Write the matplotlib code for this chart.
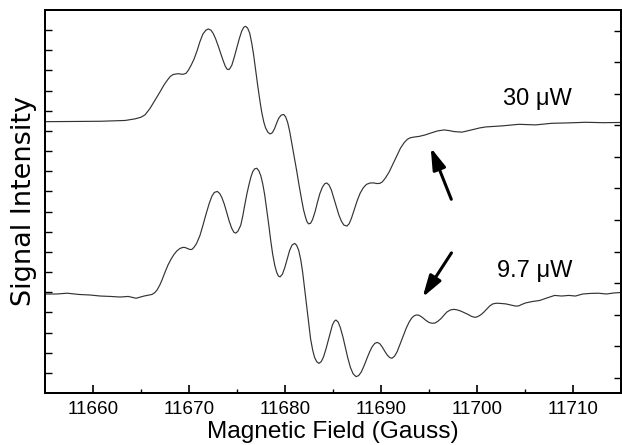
import matplotlib
matplotlib.use("Agg")
import matplotlib.pyplot as plt
import numpy as np

# ---- data ----
field_30 = [11655.05, 11657.64, 11660.76, 11663.35, 11664.39, 11665.00, 11665.43, 11665.95,
            11666.50, 11666.99, 11667.40, 11667.72, 11668.05, 11668.35, 11668.86, 11669.38,
            11669.70, 11669.95, 11670.25, 11670.53, 11670.85, 11671.14, 11671.45, 11671.75,
            11672.02, 11672.30, 11672.55, 11672.80, 11673.05, 11673.30, 11673.53, 11673.78,
            11674.00, 11674.22, 11674.47, 11674.72, 11674.99, 11675.25, 11675.50, 11675.72,
            11675.92, 11676.12, 11676.33, 11676.55, 11676.75, 11676.95, 11677.16, 11677.38,
            11677.58, 11677.80, 11677.99, 11678.25, 11678.48, 11678.70, 11678.93, 11679.15,
            11679.35, 11679.60, 11679.87, 11680.08, 11680.29, 11680.50, 11680.70, 11680.95,
            11681.22, 11681.48, 11681.74, 11681.95, 11682.15, 11682.30, 11682.47, 11682.68,
            11682.88, 11683.15, 11683.40, 11683.65, 11683.92, 11684.15, 11684.36, 11684.60,
            11684.85, 11685.10, 11685.37, 11685.62, 11685.89, 11686.15, 11686.46, 11686.70,
            11686.93, 11687.25, 11687.55, 11687.85, 11688.17, 11688.50, 11688.90, 11689.25,
            11689.63, 11689.90, 11690.15, 11690.50, 11690.87, 11691.30, 11691.70, 11692.05,
            11692.43, 11692.75, 11693.05, 11693.50, 11693.99, 11694.60, 11695.23, 11695.90,
            11696.58, 11697.10, 11697.62, 11698.45, 11699.10, 11699.70, 11700.30, 11700.95,
            11702.61, 11704.38, 11706.14, 11707.80, 11709.57, 11711.33, 11713.20, 11714.86]
signal_30 = [13.46, 13.47, 13.48, 13.52, 13.60, 13.68, 13.80, 14.12,
             14.55, 14.94, 15.28, 15.50, 15.70, 15.80, 15.84, 15.81,
             15.86, 16.02, 16.28, 16.56, 16.98, 17.42, 17.80, 17.99,
             18.06, 18.00, 17.82, 17.55, 17.22, 16.86, 16.54, 16.22,
             16.05, 16.06, 16.26, 16.65, 17.12, 17.58, 17.95, 18.15,
             18.19, 18.10, 17.86, 17.35, 16.75, 16.02, 15.28, 14.55,
             13.95, 13.45, 13.15, 12.92, 12.85, 12.92, 13.12, 13.40,
             13.62, 13.78, 13.82, 13.70, 13.42, 12.98, 12.44, 11.78,
             11.05, 10.30, 9.60, 9.08, 8.72, 8.50, 8.39, 8.42,
             8.60, 9.00, 9.47, 9.90, 10.22, 10.38, 10.42, 10.32,
             10.06, 9.66, 9.22, 8.84, 8.52, 8.33, 8.28, 8.40,
             8.66, 9.12, 9.56, 9.92, 10.18, 10.35, 10.42, 10.42,
             10.39, 10.40, 10.47, 10.68, 10.97, 11.40, 11.80, 12.15,
             12.42, 12.58, 12.66, 12.70, 12.73, 12.80, 12.90, 13.00,
             13.05, 13.02, 12.97, 12.94, 13.01, 13.08, 13.15, 13.20,
             13.25, 13.33, 13.30, 13.38, 13.40, 13.43, 13.41, 13.42]

field_97 = [11655.05, 11656.19, 11657.33, 11658.47, 11659.72, 11660.76, 11661.80, 11662.83,
            11663.67, 11664.50, 11665.33, 11666.16, 11666.45, 11666.68, 11666.95, 11667.20,
            11667.50, 11667.82, 11668.15, 11668.44, 11668.75, 11669.07, 11669.35, 11669.58,
            11669.85, 11670.10, 11670.30, 11670.52, 11670.80, 11671.14, 11671.45, 11671.77,
            11672.10, 11672.39, 11672.65, 11672.96, 11673.20, 11673.43, 11673.70, 11673.95,
            11674.20, 11674.47, 11674.68, 11674.88, 11675.10, 11675.40, 11675.62, 11675.82,
            11676.03, 11676.24, 11676.45, 11676.65, 11676.85, 11677.07, 11677.28, 11677.49,
            11677.70, 11677.90, 11678.10, 11678.32, 11678.52, 11678.73, 11678.95, 11679.15,
            11679.32, 11679.50, 11679.75, 11679.99, 11680.25, 11680.50, 11680.75, 11681.02,
            11681.22, 11681.44, 11681.65, 11681.85, 11682.05, 11682.27, 11682.48, 11682.68,
            11682.90, 11683.10, 11683.32, 11683.55, 11683.78, 11684.02, 11684.28, 11684.54,
            11684.75, 11684.95, 11685.15, 11685.32, 11685.55, 11685.78, 11686.05, 11686.30,
            11686.55, 11686.82, 11687.10, 11687.41, 11687.68, 11687.96, 11688.28, 11688.58,
            11688.85, 11689.10, 11689.37, 11689.63, 11689.90, 11690.15, 11690.42, 11690.67,
            11690.92, 11691.15, 11691.42, 11691.70, 11692.00, 11692.33, 11692.65, 11692.95,
            11693.22, 11693.47, 11693.70, 11693.95, 11694.20, 11694.40, 11694.70, 11695.02,
            11695.33, 11695.64, 11695.95, 11696.27, 11696.58, 11696.89, 11697.25, 11697.62,
            11697.98, 11698.35, 11698.70, 11699.07, 11699.45, 11699.80, 11700.10, 11700.42,
            11700.75, 11701.05, 11701.35, 11701.67, 11702.00, 11702.29, 11703.02, 11703.75,
            11704.05, 11704.37, 11704.72, 11705.10, 11705.82, 11706.55, 11707.28, 11708.11,
            11708.84, 11709.57, 11710.29, 11711.02, 11711.85, 11712.68, 11713.51, 11714.24,
            11714.86]
signal_97 = [4.91, 4.91, 4.95, 4.89, 4.86, 4.81, 4.79, 4.76,
             4.79, 4.70, 4.81, 4.89, 4.98, 5.11, 5.34, 5.61,
             5.98, 6.35, 6.65, 6.87, 7.05, 7.17, 7.22, 7.22,
             7.17, 7.12, 7.12, 7.22, 7.42, 7.80, 8.30, 8.85,
             9.38, 9.76, 9.95, 10.00, 9.90, 9.70, 9.35, 8.93,
             8.52, 8.16, 7.98, 7.93, 8.02, 8.32, 8.80, 9.33,
             9.85, 10.30, 10.70, 10.98, 11.12, 11.15, 11.03, 10.78,
             10.36, 9.82, 9.12, 8.34, 7.58, 6.88, 6.32, 5.98,
             5.80, 5.76, 5.90, 6.22, 6.66, 7.08, 7.34, 7.42,
             7.33, 7.08, 6.62, 6.00, 5.20, 4.35, 3.45, 2.68,
             2.12, 1.76, 1.55, 1.47, 1.55, 1.78, 2.18, 2.65,
             3.05, 3.37, 3.56, 3.62, 3.52, 3.24, 2.78, 2.26,
             1.75, 1.28, 0.96, 0.81, 0.86, 1.04, 1.38, 1.75,
             2.06, 2.30, 2.46, 2.51, 2.44, 2.28, 2.06, 1.88,
             1.76, 1.72, 1.82, 2.05, 2.42, 2.84, 3.22, 3.52,
             3.72, 3.83, 3.87, 3.86, 3.79, 3.72, 3.60, 3.50,
             3.46, 3.47, 3.56, 3.69, 3.86, 4.02, 4.12, 4.15,
             4.12, 4.06, 3.98, 3.90, 3.80, 3.75, 3.79, 3.88,
             4.02, 4.17, 4.32, 4.42, 4.45, 4.45, 4.42, 4.34,
             4.31, 4.32, 4.40, 4.47, 4.54, 4.59, 4.71, 4.84,
             4.81, 4.84, 4.81, 4.91, 4.94, 4.95, 4.91, 4.96,
             4.98]

labels = ["30 \u03bcW", "9.7 \u03bcW"]
label_pos = [(11706.35, 14.59), (11706.03, 6.05)]
arrow_heads = [(11695.20, 12.17), (11694.35, 4.75)]
arrow_tails = [(11697.34, 9.61), (11697.36, 6.95)]
xticks_major = [11660, 11670, 11680, 11690, 11700, 11710]

plt.rcParams['font.family'] = ['Liberation Sans', 'DejaVu Sans']

fig = plt.figure(figsize=(6.22, 4.45), dpi=100)
ax = fig.add_axes([0.0723, 0.1169, 0.9257, 0.8606])

line_kw = dict(color='#333333', lw=0.85)
ax.plot(field_30, signal_30, **line_kw)
ax.plot(field_97, signal_97, **line_kw)

ax.set_xlim(11655, 11715)
ax.set_ylim(0, 19.0)
ax.set_xticks(xticks_major)
ax.set_xticks(np.arange(11665, 11715, 10), minor=True)
ax.set_yticks(np.arange(1, 19))
ax.set_yticklabels([])
ax.tick_params(axis='x', which='major', direction='in', length=5.8, width=1.2,
               labelsize=13.6, pad=5.5, top=False)
ax.tick_params(axis='x', which='minor', direction='in', length=2.6, width=1.0, top=False)
ax.tick_params(axis='y', which='major', direction='in', length=5, width=1.0, right=False)

ax2 = ax.twinx()
ax2.set_ylim(-0.475, 11.65)
ax2.set_yticks(np.arange(0, 12))
ax2.set_yticklabels([])
ax2.tick_params(axis='y', direction='in', length=5, width=1.0)

for a in (ax, ax2):
    for s in a.spines.values():
        s.set_linewidth(1.4)

ax.set_xlabel("Magnetic Field (Gauss)", fontsize=17.6)
ax.xaxis.set_label_coords(0.5, -0.0725)
ax.set_ylabel("Signal Intensity", fontsize=19.5, family=['DejaVu Sans'], labelpad=2)

for txt, (x, y) in zip(labels, label_pos):
    ax.text(x, y, txt, fontsize=17, ha='center', va='center')

for (hx, hy), (tx, ty) in zip(arrow_heads, arrow_tails):
    ax.annotate("", xy=(hx, hy), xytext=(tx, ty),
                arrowprops=dict(arrowstyle='-|>,head_length=0.65,head_width=0.2',
                                lw=2.2, color='black', shrinkA=0, shrinkB=0,
                                mutation_scale=20))

fig.savefig("out.png", dpi=100)
